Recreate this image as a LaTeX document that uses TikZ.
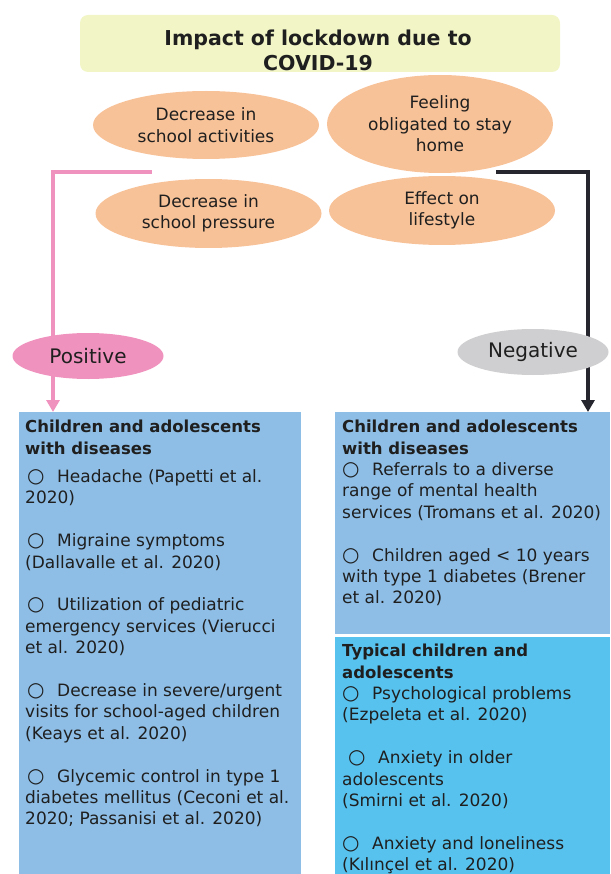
\documentclass[tikz,border=0pt]{standalone}
\usepackage{fontspec}
\setmainfont{DejaVu Sans}
\usetikzlibrary{arrows.meta,positioning,shapes.geometric,backgrounds}
\definecolor{Cream}{HTML}{F2F5C6}
\definecolor{Peach}{HTML}{F8C298}
\definecolor{Pink}{HTML}{F092BE}
\definecolor{Silver}{HTML}{CFCFD1}
\definecolor{Ink}{HTML}{26262E}
\definecolor{Sky}{HTML}{8EBEE6}
\definecolor{Cyan}{HTML}{58C2EE}
\colorlet{posline}{Pink}
\colorlet{negline}{Ink}
\newcommand{\itm}{\makebox[30pt][l]{\fontsize{20}{21.4}\selectfont ○}}
\newcommand{\hd}[1]{{\fontsize{16.5}{21.4}\selectfont\bfseries #1}}

\begin{document}
\begin{tikzpicture}[x=1pt,y=-1pt,font=\fontsize{17}{21.4}\selectfont,text=black!88,
    cause/.style={ellipse,fill=Peach,inner sep=0pt,align=center,minimum width=226pt},
    tone/.style={ellipse,inner sep=0pt,minimum width=151pt,minimum height=46pt,font=\fontsize{20}{24}\selectfont},
    panel/.style={anchor=north west,inner sep=0pt},
    list/.style={anchor=north west,inner sep=0pt,align=left},
    wire/.style={line width=3.6pt,-{Triangle[length=12pt,width=13pt]}}]
  \useasboundingbox (0,0) rectangle (610,874);
  \node[fill=Cream,rounded corners=8pt,minimum width=480pt,minimum height=57pt] (title) at (320,43.5) {};
  \node[font=\bfseries\fontsize{20.5}{25}\selectfont,align=center] (titletext) at (318,50) {Impact of lockdown due to\\COVID-19};
  \node[cause,minimum height=68pt] (activities) at (206,125) {Decrease in\\school activities};
  \node[cause,minimum height=98pt] (home) at (440,124) {Feeling\\obligated to stay\\home};
  \node[cause,minimum height=69pt] (pressure) at (208.5,213.5) {Decrease in\\school pressure};
  \node[cause,minimum height=69pt] (lifestyle) at (442,210.5) {Effect on\\lifestyle};
  \node[tone,fill=Pink] (pos) at (88,356) {Positive};
  \node[tone,fill=Silver] (neg) at (533,352) {Negative};
  \node[panel,fill=Sky,minimum width=282pt,minimum height=462pt] (lbox) at (19,412) {};
  \node[panel,fill=Sky,minimum width=275pt,minimum height=222pt] (rtop) at (335,412) {};
  \node[panel,fill=Cyan,minimum width=275pt,minimum height=237pt] (rbot) at (335,637) {};
  \node[list] (ltext) at (25,420) {\hd{Children and adolescents}\\
    \hd{with diseases}\\[7pt]
    \hspace*{2pt}\itm Headache (Papetti et al.\\
    2020)\\[21.4pt]
    \hspace*{2pt}\itm Migraine symptoms\\
    (Dallavalle et al. 2020)\\[21.4pt]
    \hspace*{2pt}\itm Utilization of pediatric\\
    emergency services (Vierucci\\
    et al. 2020)\\[21.4pt]
    \hspace*{2pt}\itm Decrease in severe/urgent\\
    visits for school-aged children\\
    (Keays et al. 2020)\\[21.4pt]
    \hspace*{2pt}\itm Glycemic control in type 1\\
    diabetes mellitus (Ceconi et al.\\
    2020; Passanisi et al. 2020)};
  \node[list] (rtoptext) at (342,420) {\hd{Children and adolescents}\\
    \hd{with diseases}\\
    \itm Referrals to a diverse\\
    range of mental health\\
    services (Tromans et al. 2020)\\[21.4pt]
    \itm Children aged < 10 years\\
    with type 1 diabetes (Brener\\
    et al. 2020)};
  \node[list] (rbottext) at (342,644) {\hd{Typical children and}\\
    \hd{adolescents}\\
    \itm Psychological problems\\
    (Ezpeleta et al. 2020)\\[21.4pt]
    \hspace*{6pt}\itm Anxiety in older\\
    adolescents\\
    (Smirni et al. 2020)\\[21.4pt]
    \itm Anxiety and loneliness\\
    (Kılınçel et al. 2020)};
  \coordinate (pkstart) at (152,172);
  \coordinate (pk) at (53,172);
  \coordinate (ngstart) at (496,172);
  \coordinate (ng) at (588,172);
  \begin{scope}[on background layer]
    \draw[wire,posline] (pkstart) -- (pk) -- (pk |- lbox.north);
    \draw[wire,negline] (ngstart) -- (ng) -- (ng |- rtop.north);
  \end{scope}
\end{tikzpicture}
\end{document}
